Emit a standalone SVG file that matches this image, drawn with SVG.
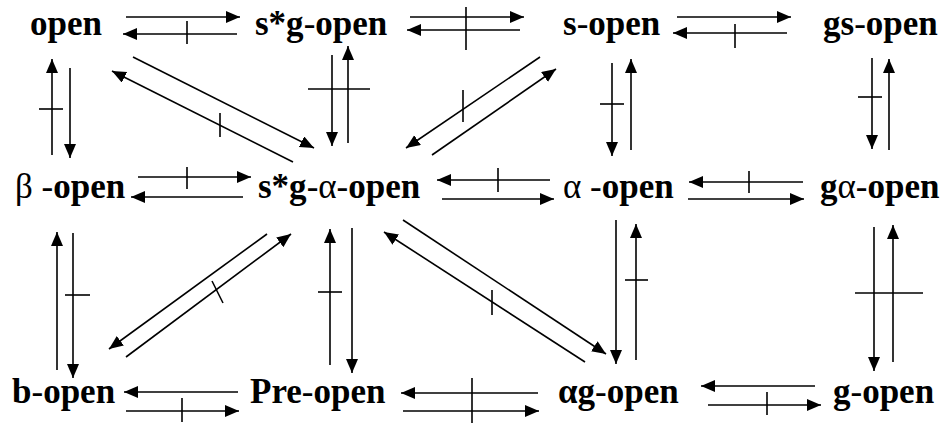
<svg xmlns="http://www.w3.org/2000/svg" width="944" height="423" viewBox="0 0 944 423">
  <style>
    .lbl { font-family: "Liberation Serif", "Times New Roman", serif; font-size: 35px; font-weight: bold; fill: #000; }
    .thin { font-weight: normal; }
    .ar { stroke: #000; stroke-width: 1.6; fill: none; marker-end: url(#head); }
    .tk { stroke: #000; stroke-width: 1.6; fill: none; }
  </style>
  <defs>
    <marker id="head" markerUnits="userSpaceOnUse" markerWidth="16" markerHeight="14" refX="14" refY="6" orient="auto">
      <path d="M0,0 L14,6 L0,12 z" fill="#000"/>
    </marker>
  </defs>
  <rect width="944" height="423" fill="#fff"/>

  <!-- node labels -->
  <g id="n-open"><text class="lbl" x="30" y="35">open</text></g>
  <g id="n-sg-open"><text class="lbl" x="255" y="35">s*g<tspan class="thin">-</tspan>open</text></g>
  <g id="n-s-open"><text class="lbl" x="563" y="35">s<tspan class="thin">-</tspan>open</text></g>
  <g id="n-gs-open"><text class="lbl" x="823" y="35">gs<tspan class="thin">-</tspan>open</text></g>

  <g id="n-beta-open"><text class="lbl" x="15" y="198"><tspan class="thin">β -</tspan>open</text></g>
  <g id="n-sg-alpha-open"><text class="lbl" x="258" y="198">s*g<tspan class="thin">-α-</tspan>open</text></g>
  <g id="n-alpha-open"><text class="lbl" x="563" y="198"><tspan class="thin">α -</tspan>open</text></g>
  <g id="n-g-alpha-open"><text class="lbl" x="820" y="198">g<tspan class="thin">α-</tspan>open</text></g>

  <g id="n-b-open"><text class="lbl" x="12" y="403">b<tspan class="thin">-</tspan>open</text></g>
  <g id="n-pre-open"><text class="lbl" x="250" y="403">Pre<tspan class="thin">-</tspan>open</text></g>
  <g id="n-alpha-g-open"><text class="lbl" x="558" y="403">αg<tspan class="thin">-</tspan>open</text></g>
  <g id="n-g-open"><text class="lbl" x="833" y="403">g<tspan class="thin">-</tspan>open</text></g>

  <!-- implications (arrows) and non-implications (crossed arrows) -->
  <g id="connectors">
    <!-- top row -->
    <line class="ar" x1="126" y1="17" x2="240" y2="17"/>
    <line class="ar" x1="237" y1="34" x2="123" y2="34"/>
    <line class="tk" x1="187" y1="21" x2="187" y2="44"/>

    <line class="ar" x1="410" y1="17" x2="524" y2="17"/>
    <line class="ar" x1="520" y1="30" x2="407" y2="30"/>
    <line class="tk" x1="466" y1="7" x2="466" y2="50"/>

    <line class="ar" x1="677" y1="17" x2="791" y2="17"/>
    <line class="ar" x1="787" y1="33" x2="673" y2="33"/>
    <line class="tk" x1="735" y1="24" x2="735" y2="48"/>

    <!-- top to middle verticals -->
    <line class="ar" x1="52" y1="155" x2="52" y2="59"/>
    <line class="ar" x1="70" y1="68" x2="70" y2="158"/>
    <line class="tk" x1="39" y1="109" x2="63" y2="109"/>

    <line class="ar" x1="332" y1="55" x2="332" y2="146"/>
    <line class="ar" x1="348" y1="143" x2="348" y2="46"/>
    <line class="tk" x1="308" y1="89" x2="370" y2="89"/>

    <line class="ar" x1="612" y1="63" x2="612" y2="156"/>
    <line class="ar" x1="631" y1="150" x2="631" y2="59"/>
    <line class="tk" x1="600" y1="104" x2="624" y2="104"/>

    <line class="ar" x1="872" y1="58" x2="872" y2="149"/>
    <line class="ar" x1="889" y1="150" x2="889" y2="59"/>
    <line class="tk" x1="858" y1="97" x2="882" y2="97"/>

    <!-- top to middle diagonals -->
    <line class="ar" x1="133" y1="57" x2="314" y2="148"/>
    <line class="ar" x1="293" y1="162" x2="112" y2="71"/>
    <line class="tk" x1="220" y1="113" x2="220" y2="137"/>

    <line class="ar" x1="540" y1="57" x2="406" y2="148"/>
    <line class="ar" x1="432" y1="155" x2="556" y2="69"/>
    <line class="tk" x1="463" y1="90" x2="463" y2="122"/>

    <!-- middle row -->
    <line class="ar" x1="138" y1="177" x2="251" y2="177"/>
    <line class="ar" x1="243" y1="197" x2="131" y2="197"/>
    <line class="tk" x1="187" y1="167" x2="187" y2="189"/>

    <line class="ar" x1="550" y1="180" x2="437" y2="180"/>
    <line class="ar" x1="442" y1="199" x2="554" y2="199"/>
    <line class="tk" x1="498" y1="168" x2="498" y2="192"/>

    <line class="ar" x1="803" y1="182" x2="689" y2="182"/>
    <line class="ar" x1="688" y1="199" x2="804" y2="199"/>
    <line class="tk" x1="749" y1="171" x2="749" y2="193"/>

    <!-- middle to bottom verticals -->
    <line class="ar" x1="57" y1="370" x2="57" y2="232"/>
    <line class="ar" x1="73" y1="233" x2="73" y2="378"/>
    <line class="tk" x1="65" y1="295" x2="90" y2="295"/>

    <line class="ar" x1="330" y1="365" x2="330" y2="229"/>
    <line class="ar" x1="352" y1="228" x2="352" y2="373"/>
    <line class="tk" x1="318" y1="292" x2="342" y2="292"/>

    <line class="ar" x1="616" y1="220" x2="616" y2="364"/>
    <line class="ar" x1="636" y1="360" x2="636" y2="224"/>
    <line class="tk" x1="625" y1="280" x2="648" y2="280"/>

    <line class="ar" x1="874" y1="227" x2="874" y2="371"/>
    <line class="ar" x1="893" y1="362" x2="893" y2="225"/>
    <line class="tk" x1="855" y1="293" x2="923" y2="293"/>

    <!-- middle to bottom diagonals -->
    <line class="ar" x1="267" y1="234" x2="109" y2="349"/>
    <line class="ar" x1="126" y1="357" x2="291" y2="234"/>
    <line class="tk" x1="212" y1="281" x2="223" y2="303"/>

    <line class="ar" x1="403" y1="220" x2="606" y2="354"/>
    <line class="ar" x1="585" y1="362" x2="384" y2="232"/>
    <line class="tk" x1="492" y1="290" x2="492" y2="315"/>

    <!-- bottom row -->
    <line class="ar" x1="238" y1="392" x2="124" y2="392"/>
    <line class="ar" x1="126" y1="411" x2="239" y2="411"/>
    <line class="tk" x1="182" y1="398" x2="182" y2="422"/>

    <line class="ar" x1="538" y1="393" x2="401" y2="393"/>
    <line class="ar" x1="403" y1="411" x2="539" y2="411"/>
    <line class="tk" x1="472" y1="378" x2="472" y2="423"/>

    <line class="ar" x1="815" y1="386" x2="701" y2="386"/>
    <line class="ar" x1="708" y1="405" x2="821" y2="405"/>
    <line class="tk" x1="767" y1="392" x2="767" y2="415"/>
  </g>
</svg>
